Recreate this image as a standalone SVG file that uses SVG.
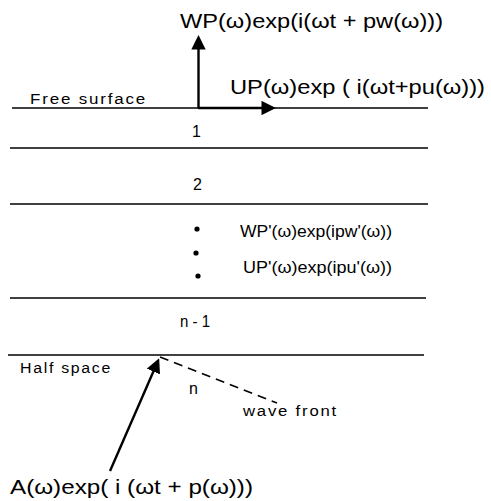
<svg xmlns="http://www.w3.org/2000/svg" width="491" height="501" viewBox="0 0 491 501">
<style>
.ln{stroke:#000;stroke-width:1.6;fill:none}
.ar{stroke:#000;stroke-width:2.4;fill:none}
text{font-family:"Liberation Sans","DejaVu Sans",sans-serif;fill:#000}
.big{font-size:20px}
.sm{font-size:14px;letter-spacing:1.5px}
.md{font-size:16px}
</style>
<defs>
<marker id="ah" viewBox="0 0 10 10" refX="8" refY="5" markerWidth="6" markerHeight="6" orient="auto" markerUnits="strokeWidth">
<path d="M0,0 L10,5 L0,10 z" fill="#000"/>
</marker>
</defs>
<g id="layers">
<line class="ln" x1="12" y1="108" x2="428" y2="108"/>
<line class="ln" x1="10" y1="148" x2="428" y2="148"/>
<line class="ln" x1="10" y1="204" x2="428" y2="204"/>
<line class="ln" x1="10" y1="298" x2="426" y2="298"/>
<line class="ln" x1="8" y1="355" x2="424" y2="355"/>
</g>
<g id="connectors">
<line class="ar" x1="198.5" y1="108" x2="198.5" y2="38" marker-end="url(#ah)"/>
<line class="ar" x1="198" y1="108" x2="273" y2="108" marker-end="url(#ah)"/>
<line class="ar" x1="110" y1="471" x2="158" y2="361" marker-end="url(#ah)"/>
<line class="ln" x1="160" y1="357" x2="277" y2="403" stroke-dasharray="9,6"/>
</g>
<g id="labels">
<text class="big" x="180" y="28" textLength="263" lengthAdjust="spacingAndGlyphs">WP(ω)exp(i(ωt + pw(ω)))</text>
<text class="big" x="230" y="94" textLength="255" lengthAdjust="spacingAndGlyphs">UP(ω)exp ( i(ωt+pu(ω)))</text>
<text class="sm" x="30" y="104" textLength="117" lengthAdjust="spacingAndGlyphs">Free surface</text>
<text class="md" x="192" y="137">1</text>
<text class="md" x="193" y="190">2</text>
<circle cx="197" cy="229" r="2.6"/>
<circle cx="196" cy="253" r="2.6"/>
<circle cx="198" cy="276" r="2.6"/>
<text class="md" x="240" y="237" textLength="152" lengthAdjust="spacingAndGlyphs">WP'(ω)exp(ipw'(ω))</text>
<text class="md" x="243" y="273" textLength="149" lengthAdjust="spacingAndGlyphs">UP'(ω)exp(ipu'(ω))</text>
<text class="md" x="180" y="327" textLength="30" lengthAdjust="spacingAndGlyphs">n - 1</text>
<text class="sm" x="20" y="373" textLength="92" lengthAdjust="spacingAndGlyphs">Half space</text>
<text class="md" x="189" y="394">n</text>
<text class="sm" x="243" y="416" textLength="95" lengthAdjust="spacingAndGlyphs">wave front</text>
<text class="big" x="10" y="494" textLength="243" lengthAdjust="spacingAndGlyphs">A(ω)exp( i (ωt + p(ω)))</text>
</g>
</svg>
